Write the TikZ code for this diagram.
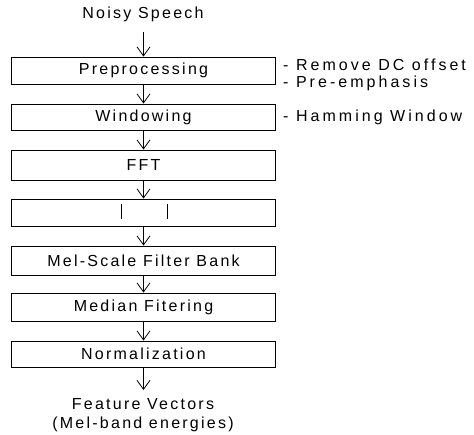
\documentclass[tikz,border=0pt]{standalone}
\usepackage{fontspec}
\setmainfont{Liberation Sans}[LetterSpace=14]
\newfontfamily\sidefont{Liberation Sans}[LetterSpace=19]
\usetikzlibrary{arrows.meta}
\begin{document}
\begin{tikzpicture}[x=1pt,y=-1pt,
  stage/.style={draw, line width=0.9pt, minimum width=264pt, inner sep=0pt, font=\fontsize{16}{18}\selectfont},
  lbl/.style={font=\fontsize{16}{18}\selectfont, inner sep=0pt},
  side/.style={font=\sidefont\fontsize{16}{18}\selectfont, inner sep=0pt, anchor=west},
  flow/.style={line width=0.8pt, -{Straight Barb[length=9pt,width=13pt,line width=0.8pt]}}]
\useasboundingbox (0,0) rectangle (474,435);
\node[lbl] (in) at (143,14) {Noisy Speech};
\node[stage, minimum height=27pt] (pre) at (143.5,70.5) {Preprocessing};
\node[stage, minimum height=26pt] (win) at (143.5,117) {Windowing};
\node[stage, minimum height=30pt] (fft) at (143.5,165) {FFT};
\node[stage, minimum height=27pt] (blank) at (143.5,212.5) {};
\node[stage, minimum height=29pt] (mel) at (143.5,260.5) {Mel-Scale Filter Bank};
\node[stage, minimum height=28pt] (med) at (143.5,307) {Median Fitering};
\node[stage, minimum height=26pt] (norm) at (143.5,354) {Normalization};
\node[lbl, align=center] (out) at (143,415) {Feature Vectors\\[1pt](Mel-band energies)};
\coordinate (b1t) at (121,204); \coordinate (b1b) at (121,219);
\coordinate (b2t) at (167,204); \coordinate (b2b) at (167,219);
\draw[line width=0.9pt] (b1t) -- (b1b) (b2t) -- (b2b);
\coordinate (intail) at (143.5,32);
\draw[flow] (intail) -- (pre.north);
\draw[flow] (pre) -- (win);
\draw[flow] (win) -- (fft);
\draw[flow] (fft) -- (blank);
\draw[flow] (blank) -- (mel);
\draw[flow] (mel) -- (med);
\draw[flow] (med) -- (norm);
\coordinate (outtop) at (143.5,390);
\draw[flow] (norm) -- (outtop);
\node[side] (s1) at (283,65) {- Remove DC offset};
\node[side] (s2) at (283,83) {- Pre-emphasis};
\node[side] (s3) at (283,117) {- Hamming Window};
\end{tikzpicture}
\end{document}
